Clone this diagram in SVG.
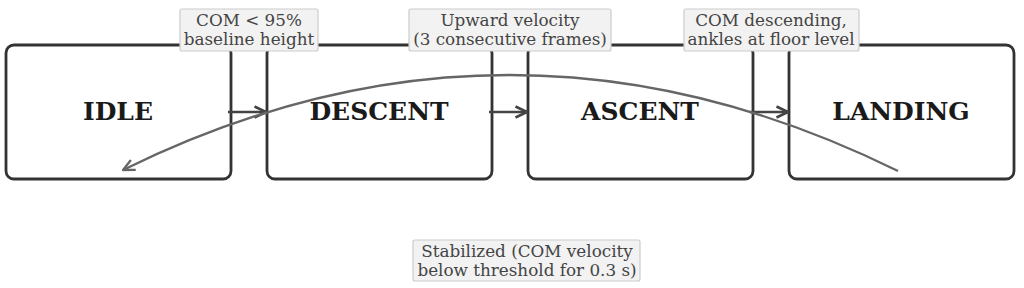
<svg xmlns="http://www.w3.org/2000/svg" width="1024" height="288" viewBox="0 0 1024 288">
<style>
.node{fill:#ffffff;stroke:#333333;stroke-width:2.8}
.title{font-family:"DejaVu Serif",serif;font-weight:bold;font-size:25px;fill:#1a1a1a;text-anchor:middle}
.lbox{fill:#f2f2f2;stroke:#cccccc;stroke-width:1.2}
.ltext{font-family:"DejaVu Serif",serif;font-size:16.8px;fill:#444444;text-anchor:middle}
.edge{fill:none;stroke:#444444;stroke-width:2.6}
.back{fill:none;stroke:#666666;stroke-width:2.3}
</style>
<defs>
<marker id="ah" viewBox="0 0 14 14" refX="13" refY="7" markerWidth="14" markerHeight="14" markerUnits="userSpaceOnUse" orient="auto">
<path d="M1.5,1.5 L13,7 L1.5,12.5" fill="none" stroke="#444444" stroke-width="2.6"/>
</marker>
<marker id="ah2" viewBox="0 0 14 14" refX="13" refY="7" markerWidth="14" markerHeight="14" markerUnits="userSpaceOnUse" orient="auto">
<path d="M1.5,1.5 L13,7 L1.5,12.5" fill="none" stroke="#666666" stroke-width="2.3"/>
</marker>
</defs>
<g id="node-idle"><rect class="node" x="6" y="45" width="225" height="134" rx="8"/><text class="title" x="118" y="120">IDLE</text></g>
<g id="node-descent"><rect class="node" x="267" y="45" width="225" height="134" rx="8"/><text class="title" x="379" y="120">DESCENT</text></g>
<g id="node-ascent"><rect class="node" x="528" y="45" width="225" height="134" rx="8"/><text class="title" x="640" y="120">ASCENT</text></g>
<g id="node-landing"><rect class="node" x="789" y="45" width="225" height="134" rx="8"/><text class="title" x="901" y="120">LANDING</text></g>
<g id="connectors">
<line class="edge" x1="228" y1="112" x2="266" y2="112" marker-end="url(#ah)"/>
<line class="edge" x1="489" y1="112" x2="527" y2="112" marker-end="url(#ah)"/>
<line class="edge" x1="750" y1="112" x2="788" y2="112" marker-end="url(#ah)"/>
<path class="back" d="M898,171 Q510,-20.5 123,170" marker-end="url(#ah2)"/>
<g id="label-1"><rect class="lbox" x="180" y="9" width="138" height="42" rx="2"/><text class="ltext" x="249" y="26">COM &lt; 95%</text><text class="ltext" x="249" y="44.5">baseline height</text></g>
<g id="label-2"><rect class="lbox" x="409" y="9" width="202" height="42" rx="2"/><text class="ltext" x="510" y="26">Upward velocity</text><text class="ltext" x="510" y="44.5">(3 consecutive frames)</text></g>
<g id="label-3"><rect class="lbox" x="684" y="9" width="175" height="42" rx="2"/><text class="ltext" x="771" y="26">COM descending,</text><text class="ltext" x="771" y="44.5">ankles at floor level</text></g>
<g id="label-4"><rect class="lbox" x="413" y="240" width="227" height="41" rx="2"/><text class="ltext" x="527" y="257">Stabilized (COM velocity</text><text class="ltext" x="527" y="275.5">below threshold for 0.3 s)</text></g>
</g>
</svg>
